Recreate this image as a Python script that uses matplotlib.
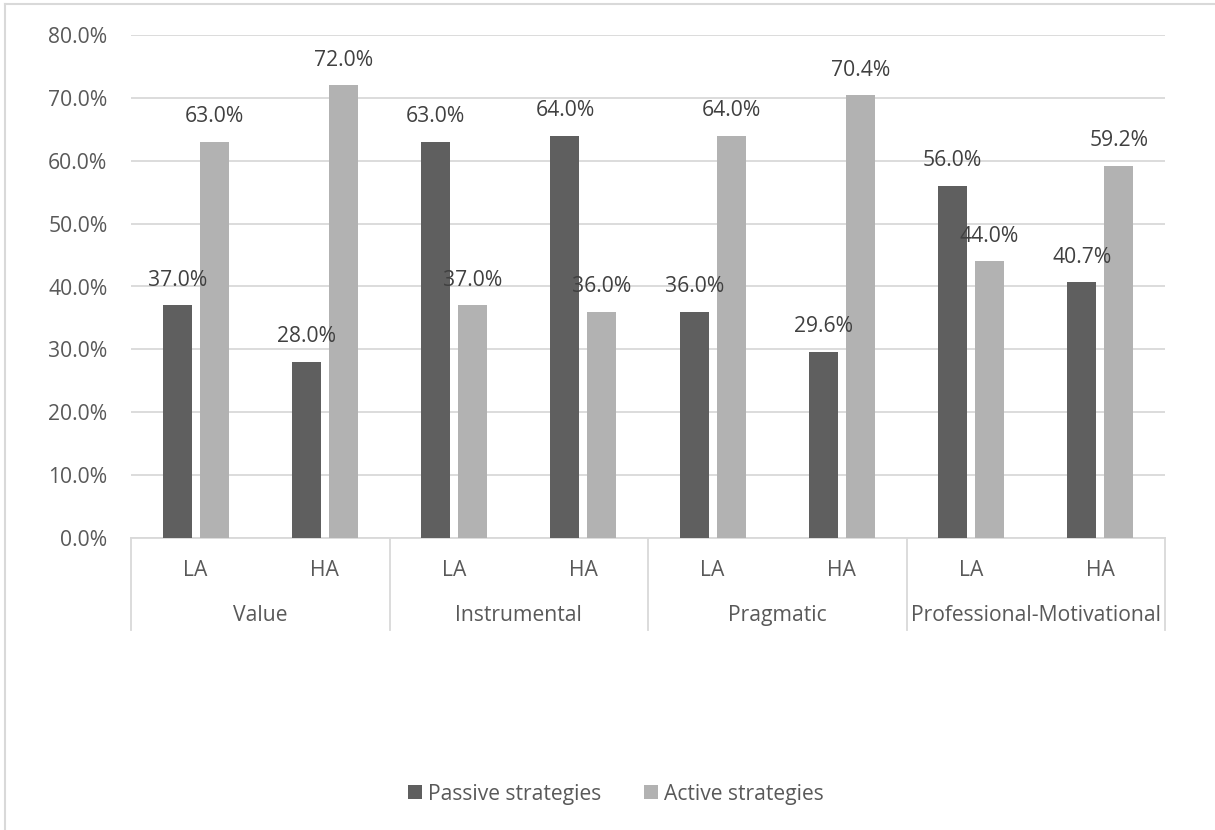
import matplotlib.pyplot as plt
from matplotlib.ticker import FuncFormatter
from matplotlib.lines import Line2D
import numpy as np

groups = ['Value', 'Instrumental', 'Pragmatic', 'Professional-Motivational']
levels = ['LA', 'HA']
passive = [37.0, 28.0, 63.0, 64.0, 36.0, 29.6, 56.0, 40.7]
active = [63.0, 72.0, 37.0, 36.0, 64.0, 70.4, 44.0, 59.2]

dark = '#5f5f5f'
light = '#b2b2b2'
grid = '#d9d9d9'
txt = '#595959'

plt.rcParams['font.family'] = ['Open Sans', 'DejaVu Sans']
plt.rcParams['font.size'] = 15.2

fig = plt.figure(figsize=(12.15, 8.3), dpi=100)
ax = fig.add_axes([131 / 1215, 292 / 830, 1034 / 1215, 503 / 830])

x = np.arange(len(passive))
w = 0.225
off = 0.143
b1 = ax.bar(x - off, passive, w, color=dark, label='Passive strategies', zorder=3)
b2 = ax.bar(x + off, active, w, color=light, label='Active strategies', zorder=3)

for bars, vals in ((b1, passive), (b2, active)):
    for r, v in zip(bars, vals):
        ax.annotate(f'{v:.1f}%', (r.get_x() + r.get_width() / 2, v),
                    xytext=(0, 18), textcoords='offset points',
                    ha='center', va='center', color='#404040', zorder=4)

ax.set_xlim(-0.5, len(passive) - 0.5)
ax.set_ylim(0, 80)
ax.set_yticks(range(0, 81, 10))
ax.yaxis.set_major_formatter(FuncFormatter(lambda v, p: f'{v:.1f}%'))
ax.tick_params(axis='y', length=0, pad=17, colors=txt)
ax.set_xticks([])
ax.grid(axis='y', color=grid, linewidth=1.3, zorder=0)
for s in ax.spines.values():
    s.set_visible(False)

# category axis with two levels
tr = ax.get_xaxis_transform()
ax.plot([-0.5, len(passive) - 0.5], [0, 0], color=grid, lw=1.3, transform=tr, clip_on=False, zorder=2)
for g in range(len(groups) + 1):
    xs = g * 2 - 0.5
    ax.plot([xs, xs], [0, -0.182], color=grid, lw=1.3, transform=tr, clip_on=False)
for i in x:
    ax.text(i, -0.064, levels[i % 2], ha='center', va='center', color=txt, transform=tr)
for g, name in enumerate(groups):
    ax.text(g * 2 + 0.5, -0.155, name, ha='center', va='center', color=txt, transform=tr)

fig.legend(handles=[b1, b2], loc='center', bbox_to_anchor=(616 / 1215, 36 / 830),
           ncol=2, frameon=False, handlelength=0.65, handleheight=0.65,
           handletextpad=0.3, columnspacing=2.0, labelcolor=txt)

# chart border
fig.add_artist(Line2D([5 / 1215, 1], [1 - 4 / 830, 1 - 4 / 830], color=grid, lw=1.5))
fig.add_artist(Line2D([5 / 1215, 5 / 1215], [0, 1 - 4 / 830], color=grid, lw=1.5))

fig.savefig('out.png', dpi=100)
